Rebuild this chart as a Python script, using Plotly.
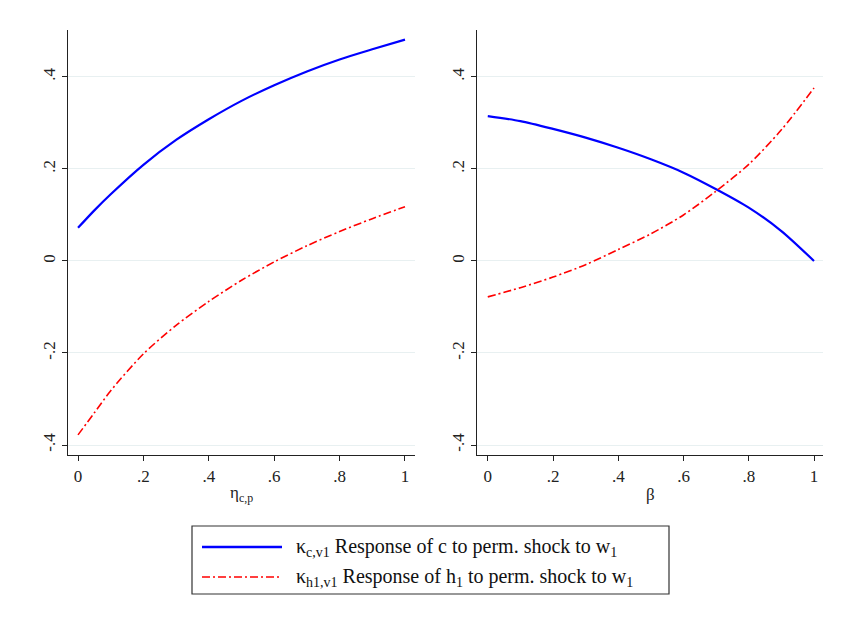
import plotly.graph_objects as go

# ---- data ----
eta_cp = [0.0, 0.05, 0.1, 0.2, 0.3, 0.4, 0.5, 0.6, 0.7, 0.8, 0.9, 1.0]
kappa_c_left = [0.072, 0.110, 0.145, 0.209, 0.263, 0.308, 0.348, 0.382, 0.412, 0.438, 0.460, 0.481]
kappa_h_left = [-0.378, -0.330, -0.282, -0.202, -0.140, -0.088, -0.042, -0.002, 0.033, 0.064, 0.092, 0.118]

beta = [0.0, 0.1, 0.2, 0.3, 0.4, 0.5, 0.6, 0.7, 0.8, 0.9, 1.0]
kappa_c_right = [0.315, 0.304, 0.287, 0.268, 0.246, 0.221, 0.192, 0.156, 0.116, 0.065, 0.0]
kappa_h_right = [-0.078, -0.058, -0.035, -0.008, 0.025, 0.059, 0.100, 0.152, 0.210, 0.285, 0.376]

x_ticks = [0, 0.2, 0.4, 0.6, 0.8, 1.0]
x_ticklabels = ["0", ".2", ".4", ".6", ".8", "1"]
y_ticks = [-0.4, -0.2, 0.0, 0.2, 0.4]
y_ticklabels = ["-.4", "-.2", "0", ".2", ".4"]

legend_labels = [
    "κ<sub>c,v1</sub> Response of c to perm. shock to w<sub>1</sub>",
    "κ<sub>h1,v1</sub> Response of h<sub>1</sub> to perm. shock to w<sub>1</sub>",
]
x_titles = ["η<sub>c,p</sub>", "β"]

BLUE = "#0000ff"
RED = "#ff0000"
RED_DASH = "8px,3px,2px,3px"
FONT = "Liberation Serif"

W, H = 846, 617

fig = go.Figure()

fig.add_trace(go.Scatter(x=eta_cp, y=kappa_c_left, mode="lines", xaxis="x", yaxis="y",
                         line=dict(color=BLUE, width=2.2, shape="spline", smoothing=0.8), showlegend=False))
fig.add_trace(go.Scatter(x=eta_cp, y=kappa_h_left, mode="lines", xaxis="x", yaxis="y",
                         line=dict(color=RED, width=1.6, dash=RED_DASH, shape="spline", smoothing=0.8), showlegend=False))
fig.add_trace(go.Scatter(x=beta, y=kappa_c_right, mode="lines", xaxis="x2", yaxis="y2",
                         line=dict(color=BLUE, width=2.2, shape="spline", smoothing=0.8), showlegend=False))
fig.add_trace(go.Scatter(x=beta, y=kappa_h_right, mode="lines", xaxis="x2", yaxis="y2",
                         line=dict(color=RED, width=1.6, dash=RED_DASH, shape="spline", smoothing=0.8), showlegend=False))

def px(x):
    return x / W

def py(y):
    return 1 - y / H

ydom = [py(455), py(30)]
yrange = [-0.4217, 0.502]

common_x = dict(
    tickmode="array", tickvals=x_ticks, ticktext=x_ticklabels,
    ticks="outside", ticklen=5, tickcolor="#222", tickwidth=1,
    showline=True, linecolor="#222", linewidth=1.2,
    showgrid=False, zeroline=False, automargin=False,
    tickfont=dict(family=FONT, size=17, color="#222"),
)
common_y = dict(
    tickmode="array", tickvals=y_ticks, ticktext=y_ticklabels,
    ticks="outside", ticklen=5, tickcolor="#222", tickwidth=1,
    showline=True, linecolor="#222", linewidth=1.2,
    showgrid=True, gridcolor="#e8f0f1", gridwidth=1.2,
    zeroline=False, automargin=False, tickangle=-90,
    tickfont=dict(family=FONT, size=17, color="#222"),
    range=yrange, domain=ydom,
)

fig.update_layout(
    width=W, height=H,
    margin=dict(l=0, r=0, t=0, b=0),
    paper_bgcolor="white", plot_bgcolor="white",
    showlegend=False,
    xaxis=dict(common_x, domain=[px(68), px(415)], range=[-0.0306, 1.0306], anchor="y"),
    yaxis=dict(common_y, anchor="x"),
    xaxis2=dict(common_x, domain=[px(477), px(823)], range=[-0.033, 1.0276], anchor="y2"),
    yaxis2=dict(common_y, anchor="x2"),
)

annotations = []
# axis titles
annotations.append(dict(x=px(241), y=py(494), xref="paper", yref="paper", text=x_titles[0],
                        showarrow=False, xanchor="center", yanchor="middle",
                        font=dict(family=FONT, size=17, color="#222")))
annotations.append(dict(x=px(650), y=py(494), xref="paper", yref="paper", text=x_titles[1],
                        showarrow=False, xanchor="center", yanchor="middle",
                        font=dict(family=FONT, size=17, color="#222")))

shapes = []
# legend box
shapes.append(dict(type="rect", xref="paper", yref="paper",
                   x0=px(192), x1=px(669), y0=py(594), y1=py(526),
                   line=dict(color="#333", width=1.2), fillcolor="white", layer="below"))
# legend samples
shapes.append(dict(type="line", xref="paper", yref="paper", x0=px(202), x1=px(282), y0=py(547), y1=py(547),
                   line=dict(color=BLUE, width=2.4)))
shapes.append(dict(type="line", xref="paper", yref="paper", x0=px(202), x1=px(282), y0=py(577), y1=py(577),
                   line=dict(color=RED, width=1.6, dash=RED_DASH)))
for i, lab in enumerate(legend_labels):
    annotations.append(dict(x=px(294), y=py(547 + 30 * i), xref="paper", yref="paper", text=lab,
                            showarrow=False, xanchor="left", yanchor="middle",
                            font=dict(family=FONT, size=20, color="#111")))

fig.update_layout(annotations=annotations, shapes=shapes)

fig.write_html("out.html", config={"displayModeBar": False},
               post_script="document.body.style.margin='0px';document.body.style.padding='0px';")
